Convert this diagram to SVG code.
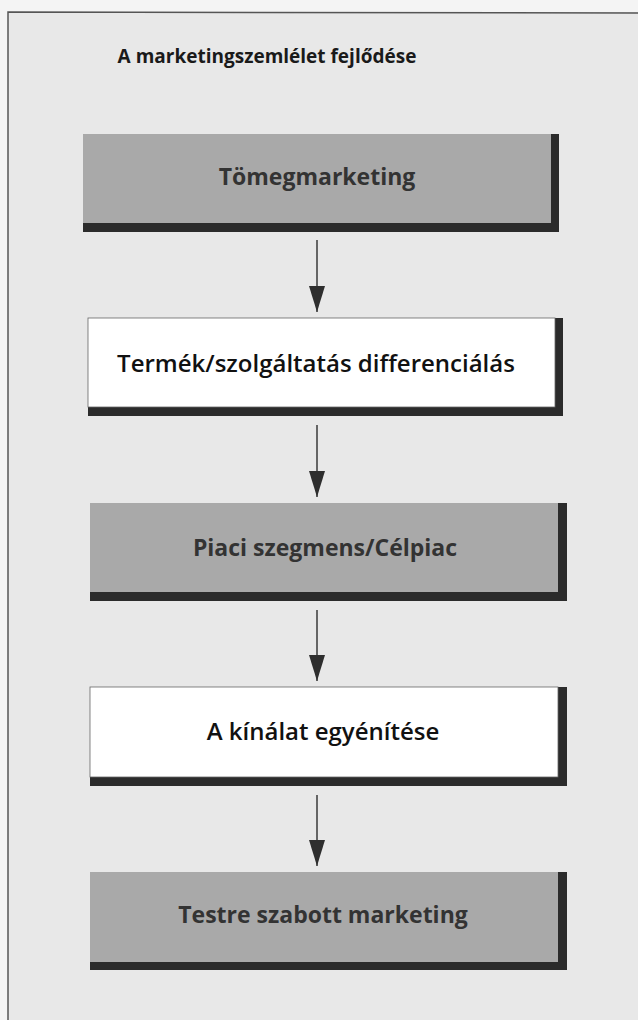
<svg xmlns="http://www.w3.org/2000/svg" width="638" height="1020" viewBox="0 0 638 1020">
<style>
.shadow{fill:#2b2b2b}
.grey{fill:#a9a9a9}
.white{fill:#ffffff}
.lbl{font-family:"Open Sans","Liberation Sans",sans-serif;text-anchor:middle}
.b{font-weight:700;fill:#333333;font-size:23px}
.r{font-weight:600;fill:#111111;font-size:24px}
.conn line{stroke:#3a3a3a;stroke-width:1.5}
</style>
<defs>
<marker id="ah" viewBox="0 0 26 16" refX="26" refY="8" markerWidth="26" markerHeight="16" markerUnits="userSpaceOnUse" orient="auto">
<path d="M0,0 L26,8 L0,16 Z" fill="#2e2e2e"/>
</marker>
</defs>
<rect x="0" y="0" width="638" height="1020" fill="#f4f4f4"/>
<rect x="8" y="12" width="630" height="1008" fill="#e8e8e8"/>
<path d="M8,1020 L8,12 L638,13" fill="none" stroke="#555555" stroke-width="1.5"/>
<text x="267" y="63" font-family="'Open Sans','Liberation Sans',sans-serif" font-weight="700" font-size="19" text-anchor="middle" fill="#1a1a1a">A marketingszemlélet fejlődése</text>
<g id="connectors" class="conn">
<line x1="317" y1="240" x2="317" y2="312" marker-end="url(#ah)"/>
<line x1="317" y1="425" x2="317" y2="497" marker-end="url(#ah)"/>
<line x1="317" y1="610" x2="317" y2="681" marker-end="url(#ah)"/>
<line x1="317" y1="795" x2="317" y2="866" marker-end="url(#ah)"/>
</g>
<g id="node1">
<rect class="shadow" x="83" y="134" width="476" height="98"/>
<rect class="grey" x="83" y="134" width="468" height="89"/>
<text class="lbl b" x="317" y="185">Tömegmarketing</text>
</g>
<g id="node2">
<rect class="shadow" x="88" y="318" width="475" height="98"/>
<rect class="white" x="88" y="318" width="467" height="89" stroke="#666" stroke-width="0.8"/>
<text class="lbl r" x="316" y="372">Termék/szolgáltatás differenciálás</text>
</g>
<g id="node3">
<rect class="shadow" x="90" y="503" width="477" height="98"/>
<rect class="grey" x="90" y="503" width="468" height="89"/>
<text class="lbl b" x="325" y="556">Piaci szegmens/Célpiac</text>
</g>
<g id="node4">
<rect class="shadow" x="90" y="687" width="477" height="99"/>
<rect class="white" x="90" y="687" width="468" height="90" stroke="#666" stroke-width="0.8"/>
<text class="lbl r" x="323" y="740">A kínálat egyénítése</text>
</g>
<g id="node5">
<rect class="shadow" x="90" y="872" width="477" height="98"/>
<rect class="grey" x="90" y="872" width="468" height="90"/>
<text class="lbl b" x="323" y="923">Testre szabott marketing</text>
</g>
</svg>
